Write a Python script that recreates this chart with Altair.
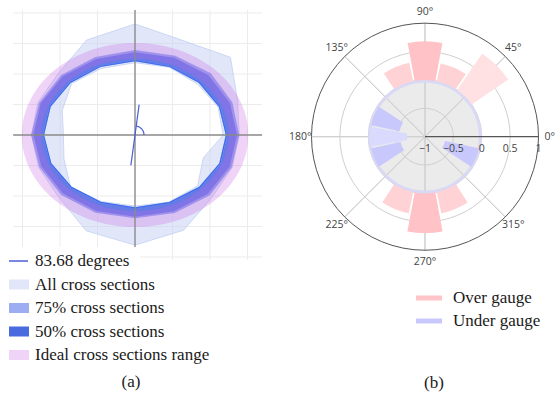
import math
import altair as alt
import numpy as np
import pandas as pd

W, H = 558, 394

# ---------------- panel (a): cross-section bands (radius at each section angle) ----------------
sec_angles = [0, 22.5, 45, 67.5, 90, 112.5, 135, 157.5, 180, 202.5, 225, 247.5, 270, 292.5, 315, 337.5]
all_outer = [2.78, 2.96, 3.60, 3.35, 3.64, 3.37, 2.88, 2.80, 2.76, 2.78, 2.88, 3.40, 3.61, 3.38, 2.90, 2.80]
all_inner = [2.35, 2.40, 2.36, 2.40, 2.37, 2.36, 2.39, 2.10, 1.91, 2.05, 2.43, 2.36, 2.33, 2.38, 2.36, 1.97]
q75_outer = [2.78, 2.81, 2.86, 2.81, 2.79, 2.77, 2.78, 2.77, 2.77, 2.76, 2.78, 2.76, 2.73, 2.77, 2.81, 2.79]
q75_inner = [2.42, 2.42, 2.41, 2.41, 2.42, 2.41, 2.42, 2.43, 2.43, 2.42, 2.40, 2.38, 2.37, 2.38, 2.41, 2.43]
q50_outer = [2.72, 2.74, 2.77, 2.74, 2.71, 2.70, 2.72, 2.72, 2.71, 2.70, 2.71, 2.70, 2.68, 2.71, 2.74, 2.73]
q50_inner = [2.46, 2.46, 2.45, 2.45, 2.46, 2.45, 2.46, 2.47, 2.46, 2.45, 2.43, 2.41, 2.40, 2.42, 2.45, 2.47]
sel_section = [2.44, 2.44, 2.43, 2.43, 2.44, 2.43, 2.44, 2.45, 2.44, 2.43, 2.41, 2.39, 2.39, 2.40, 2.43, 2.45]
ideal_range = [2.50, 3.02]
sel_angle = 83.68
grid_x = [-3, -2, -1, 1, 2, 3]
grid_y = [-4, -3, -2, -1, 1, 2, 3, 4]

legend_a_labels = ["83.68 degrees", "All cross sections", "75% cross sections",
                   "50% cross sections", "Ideal cross sections range"]
legend_a_colors = ["#4a5fd8", "#e1e7f9", "#9caef1", "#4a6ae0", "#f0d4f8"]

# ---------------- panel (b): over / under gauge by angle ----------------
over_angles = [45, 67.5, 90, 112.5, 247.5, 270, 292.5]
over_values = [0.78, 0.32, 0.68, 0.33, 0.38, 0.70, 0.38]
over_colors = ["#ffe1e3", "#ffd3d6", "#ffc3c7", "#ffd3d6", "#ffd3d6", "#ffc3c7", "#ffd3d6"]
under_angles = [157.5, 180, 202.5, 337.5]
under_values = [-0.54, -0.68, -0.56, -0.64]
under_colors = ["#c8c8fc", "#dadafe", "#c8c8fc", "#c8c8fc"]
deg_ticks = [0, 45, 90, 135, 180, 225, 270, 315]
r_ticks = [-1, -0.5, 0, 0.5, 1]
r_tick_labels = ["\u22121", "\u22120.5", "0", "0.5", "1"]
legend_b_labels = ["Over gauge", "Under gauge"]
legend_b_colors = ["#ffc4c8", "#c8c8fc"]

# ---------------- scales ----------------
XA = alt.Scale(domain=[-3.6, 11.28], range=[0, W], nice=False, zero=False)
YA = alt.Scale(domain=[-8.4918, 4.4262], range=[H, 0], nice=False, zero=False)
CX, CY, R = 425, 136.7, 113.5
TH = alt.Scale(domain=[0, 360], range=[math.pi / 2, math.pi / 2 - 2 * math.pi], nice=False, zero=False)
RA = alt.Scale(type="linear", domain=[-1, 1], range=[0, R], nice=False, zero=False)

SERIF = "Liberation Serif"
SANS = "Open Sans"


def ring_df(outer, inner, angles):
    a = list(angles) + [360]
    ro = list(outer) + [outer[0]]
    ri = list(inner) + [inner[0]]
    return pd.DataFrame({
        "i": range(2 * len(a)),
        "a": a + a[::-1],
        "r": ro + ri[::-1],
        "part": ["o"] * len(a) + ["i"] * len(a),
    })


def xy(chart):
    return chart.transform_calculate(
        x="datum.r*cos(datum.a*PI/180)", y="datum.r*sin(datum.a*PI/180)"
    )


def enc_xy(ch, **kw):
    return ch.encode(x=alt.X("x:Q", scale=XA, axis=None),
                     y=alt.Y("y:Q", scale=YA, axis=None),
                     order="i:Q", **kw)


def band(df, color, op):
    c = xy(alt.Chart(df)).mark_line(fill=color, fillOpacity=op, strokeOpacity=0, strokeWidth=0)
    return enc_xy(c)


layers = []

# grid (a)
gx = pd.DataFrame({"g": grid_x})
gy = pd.DataFrame({"g": grid_y})
layers.append(alt.Chart(gx).mark_rule(color="#ececec", strokeWidth=1).encode(
    x=alt.X("g:Q", scale=XA, axis=None),
    y=alt.Y(datum=-4.1, scale=YA, axis=None), y2=alt.Y2(datum=4.1)))
layers.append(alt.Chart(gy).mark_rule(color="#ececec", strokeWidth=1).encode(
    y=alt.Y("g:Q", scale=YA, axis=None),
    x=alt.X(datum=-3.25, scale=XA, axis=None), x2=alt.X2(datum=3.39)))

# bands
all_df = ring_df(all_outer, all_inner, sec_angles)
layers.append(band(all_df, "#c4d0f4", 0.5))
layers.append(enc_xy(xy(alt.Chart(all_df)).mark_line(color="#c2cff2", strokeWidth=0.8), detail="part:N"))
layers.append(band(ring_df(q75_outer, q75_inner, sec_angles), "#5a78e8", 0.6))
layers.append(band(ring_df(q50_outer, q50_inner, sec_angles), "#4a62e0", 0.62))

ideal_angles = list(np.arange(0, 360, 3))
ideal_df = ring_df([ideal_range[1]] * len(ideal_angles), [ideal_range[0]] * len(ideal_angles), ideal_angles)
layers.append(band(ideal_df, "#c864e6", 0.28))

sel_df = pd.DataFrame({"i": range(len(sec_angles) + 1), "a": sec_angles + [360],
                       "r": sel_section + [sel_section[0]]})
layers.append(enc_xy(xy(alt.Chart(sel_df)).mark_line(color="#3d6cf0", strokeWidth=1.2)))

# axes through origin
layers.append(alt.Chart(pd.DataFrame({"g": [0]})).mark_rule(color="#8a8a8a", strokeWidth=1.4).encode(
    x=alt.X("g:Q", scale=XA, axis=None),
    y=alt.Y(datum=-4.1, scale=YA, axis=None), y2=alt.Y2(datum=4.1)))
layers.append(alt.Chart(pd.DataFrame({"g": [0]})).mark_rule(color="#8a8a8a", strokeWidth=1.4).encode(
    y=alt.Y("g:Q", scale=YA, axis=None),
    x=alt.X(datum=-3.25, scale=XA, axis=None), x2=alt.X2(datum=3.39)))

# orientation line and angle marker
line_df = pd.DataFrame({"i": [0, 1], "r": [-1.0, 1.0], "a": [sel_angle, sel_angle]})
layers.append(enc_xy(xy(alt.Chart(line_df)).mark_line(color="#4a5fd8", strokeWidth=1.2)))
marker_df = pd.DataFrame({"i": range(15), "a": list(np.linspace(0, sel_angle, 15))})
layers.append(alt.Chart(marker_df).transform_calculate(
    x="0.24*cos(datum.a*PI/180)", y="0.295*sin(datum.a*PI/180)"
).mark_line(color="#4a5fd8", strokeWidth=1.2).encode(
    x=alt.X("x:Q", scale=XA, axis=None), y=alt.Y("y:Q", scale=YA, axis=None), order="i:Q"))

# legend (a) background + items
layers.append(alt.Chart(pd.DataFrame({"k": [0]})).mark_rect(color="white").encode(
    x=alt.value(0), x2=alt.value(140), y=alt.value(247), y2=alt.value(372)))
LYA = alt.Scale(type="point", domain=legend_a_labels, range=[261, 355], padding=0)
leg_a = pd.DataFrame({"label": legend_a_labels, "c": legend_a_colors})
layers.append(alt.Chart(leg_a.iloc[:1]).mark_rule(strokeWidth=1.5).encode(
    y=alt.Y("label:N", scale=LYA, axis=None), x=alt.value(9), x2=alt.value(28),
    color=alt.Color("c:N", scale=None)))
layers.append(alt.Chart(leg_a.iloc[1:]).mark_rule(strokeWidth=10, strokeCap="butt").encode(
    y=alt.Y("label:N", scale=LYA, axis=None), x=alt.value(9), x2=alt.value(29),
    color=alt.Color("c:N", scale=None)))
layers.append(alt.Chart(leg_a).mark_text(align="left", baseline="middle", font=SERIF, fontSize=17,
                                         color="#1a1a1a").encode(
    y=alt.Y("label:N", scale=LYA, axis=None), x=alt.value(35), text="label:N"))

# ---------------- panel (b) ----------------
def polar(ch, a0="a0:Q", a1="a1:Q", r0="r0:Q", r1="r1:Q", **kw):
    return ch.encode(theta=alt.Theta(a0, scale=TH, stack=False), theta2=alt.Theta2(a1),
                     radius=alt.Radius(r1, scale=RA), radius2=alt.Radius2(r0),
                     x=alt.value(CX), y=alt.value(CY), **kw)


full = pd.DataFrame({"a0": [0], "a1": [360], "r0": [-1], "r1": [0]})
layers.append(polar(alt.Chart(full).mark_arc(fill="#ebebeb", stroke="#ebebeb", strokeWidth=0)))

circ = pd.DataFrame({"r1": [-0.5, 0, 0.5]})
layers.append(polar(alt.Chart(circ).transform_calculate(a0="0", a1="360", r0="-1")
                    .mark_arc(filled=False, stroke="#cfcfcf", strokeWidth=1)))
spokes = pd.DataFrame({"a0": deg_ticks[1:]})
layers.append(polar(alt.Chart(spokes).transform_calculate(a1="datum.a0", r0="-1", r1="1")
                    .mark_arc(filled=False, stroke="#cfcfcf", strokeWidth=1)))
rim = pd.DataFrame({"r1": [-0.025]})
layers.append(polar(alt.Chart(rim).transform_calculate(a0="0", a1="360", r0="-1")
                    .mark_arc(filled=False, stroke="#d9d9f5", strokeWidth=3)))

over_df = pd.DataFrame({"a": over_angles, "v": over_values, "c": over_colors})
layers.append(polar(alt.Chart(over_df).transform_calculate(
    a0="datum.a-10.5", a1="datum.a+10.5", r0="0").mark_arc(),
    r1="v:Q", color=alt.Color("c:N", scale=None)))
under_df = pd.DataFrame({"a": under_angles, "v": under_values, "c": under_colors})
layers.append(polar(alt.Chart(under_df).transform_calculate(
    a0="datum.a-10.5", a1="datum.a+10.5", r0="-0.03").mark_arc(),
    r1="v:Q", color=alt.Color("c:N", scale=None)))

outer = pd.DataFrame({"r1": [1]})
layers.append(polar(alt.Chart(outer).transform_calculate(a0="0", a1="360", r0="-1")
                    .mark_arc(filled=False, stroke="#555555", strokeWidth=1)))
zero_spoke = pd.DataFrame({"a0": [0]})
layers.append(polar(alt.Chart(zero_spoke).transform_calculate(a1="datum.a0", r0="-1", r1="1")
                    .mark_arc(filled=False, stroke="#555555", strokeWidth=1.2)))

deg_df = pd.DataFrame({"a": deg_ticks, "t": [f"{d}\u00b0" for d in deg_ticks]})
layers.append(alt.Chart(deg_df).mark_text(font=SANS, fontSize=10.5, color="#444444",
                                          align="center", baseline="middle").encode(
    theta=alt.Theta("a:Q", scale=TH, stack=False), radius=alt.Radius(datum=1.2, scale=RA),
    x=alt.value(CX), y=alt.value(CY), text="t:N"))
rt_df = pd.DataFrame({"v": r_ticks, "t": r_tick_labels, "a": [0] * len(r_ticks)})
layers.append(alt.Chart(rt_df).mark_text(font=SANS, fontSize=10.5, color="#444444",
                                         align="center", baseline="middle", dy=12).encode(
    theta=alt.Theta("a:Q", scale=TH, stack=False), radius=alt.Radius("v:Q", scale=RA),
    x=alt.value(CX), y=alt.value(CY), text="t:N"))

# legend (b)
LYB = alt.Scale(type="point", domain=legend_b_labels, range=[298, 321], padding=0)
leg_b = pd.DataFrame({"label": legend_b_labels, "c": legend_b_colors})
layers.append(alt.Chart(leg_b).mark_rule(strokeWidth=5, strokeCap="butt").encode(
    y=alt.Y("label:N", scale=LYB, axis=None), x=alt.value(416), x2=alt.value(442),
    color=alt.Color("c:N", scale=None)))
layers.append(alt.Chart(leg_b).mark_text(align="left", baseline="middle", font=SERIF, fontSize=17,
                                         color="#1a1a1a").encode(
    y=alt.Y("label:N", scale=LYB, axis=None), x=alt.value(453), text="label:N"))

# captions
cap = pd.DataFrame({"t": ["(a)"]})
layers.append(alt.Chart(cap).mark_text(font=SERIF, fontSize=17, color="#1a1a1a", baseline="middle").encode(
    x=alt.value(131), y=alt.value(382), text="t:N"))
cap2 = pd.DataFrame({"t": ["(b)"]})
layers.append(alt.Chart(cap2).mark_text(font=SERIF, fontSize=17, color="#1a1a1a", baseline="middle").encode(
    x=alt.value(434), y=alt.value(383), text="t:N"))

chart = alt.layer(*layers).resolve_scale(
    x="independent", y="independent", color="independent", theta="independent", radius="independent"
).properties(
    width=W, height=H, padding=0, autosize=alt.AutoSizeParams(type="none"), background="white"
).configure_view(strokeWidth=0)

chart.save("out.html", embed_options={"renderer": "svg", "actions": False})
